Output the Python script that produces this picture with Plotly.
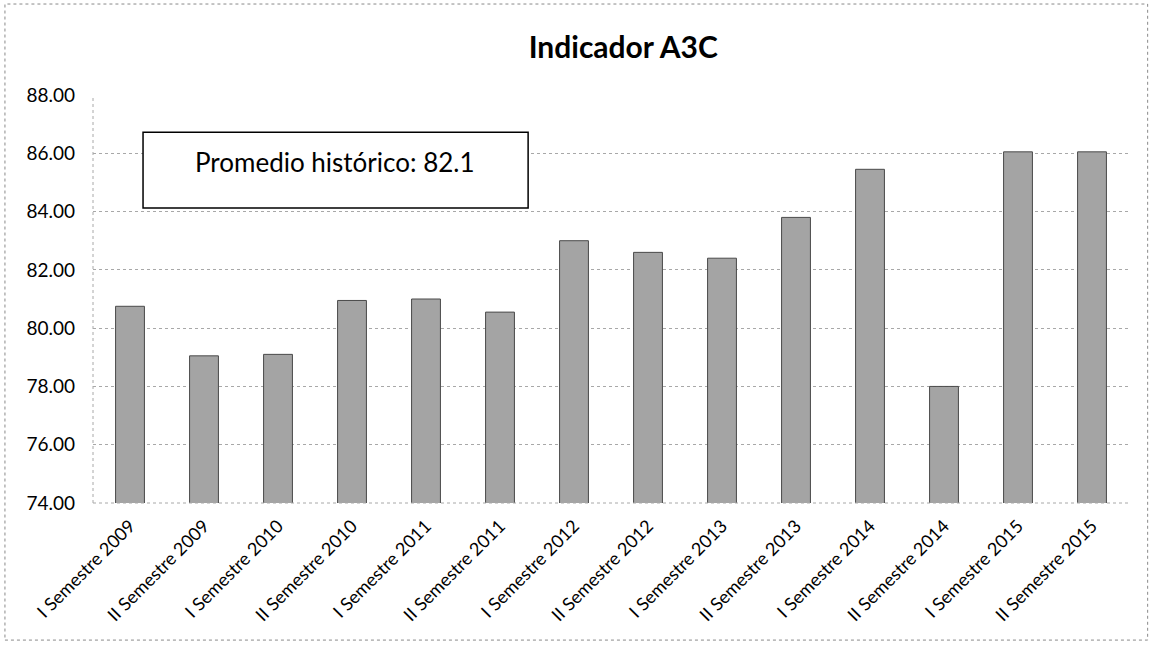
import plotly.graph_objects as go

# Semester labels and indicator values
semestres = [
    "I Semestre 2009", "II Semestre 2009",
    "I Semestre 2010", "II Semestre 2010",
    "I Semestre 2011", "II Semestre 2011",
    "I Semestre 2012", "II Semestre 2012",
    "I Semestre 2013", "II Semestre 2013",
    "I Semestre 2014", "II Semestre 2014",
    "I Semestre 2015", "II Semestre 2015",
]
indicador = [80.75, 79.05, 79.10, 80.95, 81.00, 80.55, 83.00,
             82.60, 82.40, 83.80, 85.45, 78.00, 86.05, 86.05]

y_ticks = [74, 76, 78, 80, 82, 84, 86, 88]
promedio_texto = "Promedio histórico: 82.1"

FONT = "Lato, 'Open Sans', sans-serif"

fig = go.Figure(
    go.Bar(
        x=semestres,
        y=indicador,
        marker=dict(color="#a4a4a4", line=dict(color="#4a4a4a", width=1)),
        hoverinfo="x+y",
    )
)

fig.update_layout(
    width=1152,
    height=646,
    margin=dict(l=93, r=23, t=95, b=143),
    paper_bgcolor="white",
    plot_bgcolor="white",
    bargap=0.61,
    showlegend=False,
    font=dict(family=FONT, color="#000000"),
    title=dict(
        text="<b>Indicador A3C</b>",
        x=0.541,
        xanchor="center",
        y=1 - 47 / 646,
        yanchor="middle",
        yref="container",
        font=dict(size=30, family=FONT, color="#000000"),
    ),
)

fig.update_yaxes(
    range=[74, 88],
    tickvals=y_ticks,
    tickformat=".2f",
    tickfont=dict(size=19, family=FONT, color="#000000"),
    ticklabelstandoff=17,
    showgrid=True,
    gridcolor="#a8a8a8",
    gridwidth=1,
    griddash="dot",
    zeroline=False,
    showline=False,
)

fig.update_xaxes(
    tickangle=-45,
    tickfont=dict(size=18, family=FONT, color="#000000"),
    ticklabelstandoff=8,
    showgrid=False,
    showline=False,
    ticks="",
)

# Dotted axis lines
fig.add_shape(type="line", xref="paper", yref="paper", x0=0, x1=0, y0=0, y1=1,
              line=dict(color="#a8a8a8", width=1, dash="dot"))
fig.add_shape(type="line", xref="paper", yref="paper", x0=0, x1=1, y0=0, y1=0,
              line=dict(color="#a8a8a8", width=1, dash="dot"))

# Box with the historical average
fig.add_shape(type="rect", xref="paper", yref="paper",
              x0=0.0483, x1=0.42, y0=0.723, y1=0.909,
              line=dict(color="#000000", width=1.5), fillcolor="white")
fig.add_annotation(xref="paper", yref="paper", x=0.2336, y=0.835,
                   text=promedio_texto, showarrow=False,
                   xanchor="center", yanchor="middle",
                   font=dict(size=26, family=FONT, color="#000000"))

# Dotted frame around the chart area
fig.add_shape(type="rect", xref="paper", yref="paper",
              x0=-0.085, x1=1.018, y0=-0.336, y1=1.223,
              line=dict(color="#8a8a8a", width=1, dash="dot"), layer="below")

fig.write_html("out.html")
